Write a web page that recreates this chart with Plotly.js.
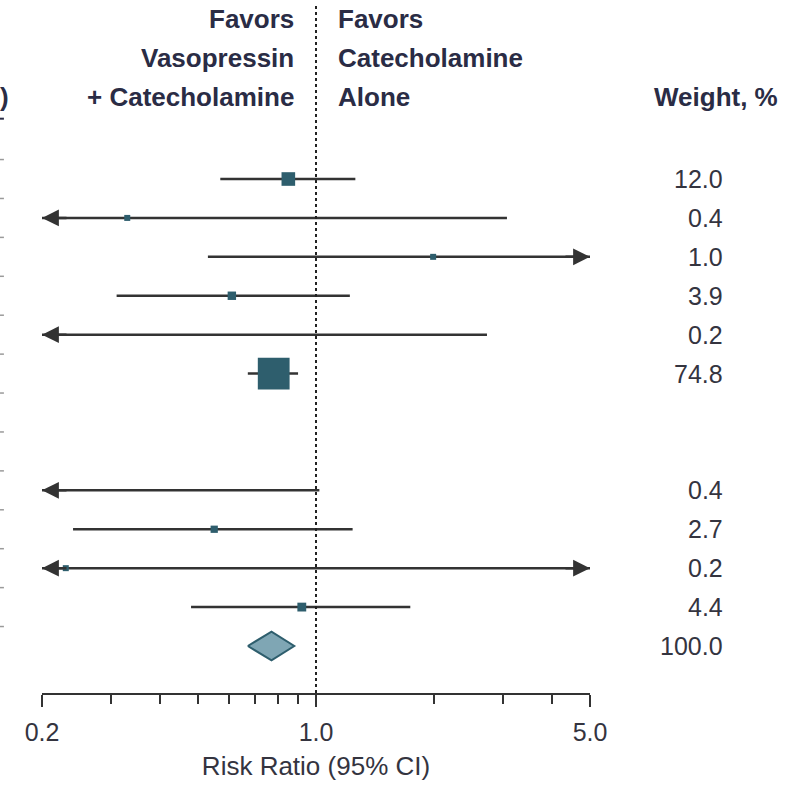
<!DOCTYPE html>
<html>
<head>
<meta charset="utf-8">
<script src="https://cdn.plot.ly/plotly-3.0.1.min.js"></script>
<style>
  html, body { margin: 0; padding: 0; background: #ffffff; }
  #chart { width: 792px; height: 786px; }
</style>
</head>
<body>
<div id="chart"></div>
<script>
// ---- data ----
const studyRows   = [0, 1, 2, 3, 4, 5, 8, 9, 10, 11];          // row order of studies
const weights     = [12.0, 0.4, 1.0, 3.9, 0.2, 74.8, 0.4, 2.7, 0.2, 4.4];
const riskRatio   = [0.85, 0.33, 1.99, 0.61, 0.15, 0.78, 0.17, 0.55, 0.23, 0.92];
const ciLower     = [0.57, 0.05, 0.53, 0.31, 0.02, 0.67, 0.01, 0.24, 0.03, 0.48];
const ciUpper     = [1.26, 3.07, 12.0, 1.22, 2.73, 0.90, 1.02, 1.24, 9.00, 1.74];
const pooledRow   = 12;
const pooled      = {rr: 0.77, lo: 0.67, hi: 0.88, weight: 100.0};
const xTickVals   = [0.2, 1, 5];
const xTickText   = ['0.2', '1.0', '5.0'];
const xMinorVals  = [0.3, 0.4, 0.5, 0.6, 0.7, 0.8, 0.9, 2, 3, 4];
const xMin = 0.2, xMax = 5;

// ---- styles ----
const lineColor = '#333333';
const boxColor  = '#2e5e6d';
const diamondFill = '#7fa6b4';
const textColor = '#34343f';
const headColor = '#2a2c45';
const regFont = 'Liberation Sans, Arial, sans-serif';

// CI lines (clamped to axis range)
const lx = [], ly = [];
studyRows.forEach((r, i) => {
  lx.push(Math.max(ciLower[i], xMin), Math.min(ciUpper[i], xMax), null);
  ly.push(r, r, null);
});

const traces = [
  {
    type: 'scatter', mode: 'lines', x: lx, y: ly,
    line: {color: lineColor, width: 2.5}, hoverinfo: 'skip', showlegend: false
  },
  {
    type: 'scatter', mode: 'markers', x: riskRatio, y: studyRows,
    marker: {
      symbol: 'square', color: boxColor, opacity: 1,
      size: weights.map(w => Math.max(6, 1.5 + 3.5 * Math.sqrt(w))),
      line: {width: 0}
    },
    cliponaxis: true, showlegend: false
  },
  {
    type: 'scatter', mode: 'lines',
    x: [pooled.lo, pooled.rr, pooled.hi, pooled.rr, pooled.lo],
    y: [pooledRow, pooledRow - 0.37, pooledRow, pooledRow + 0.37, pooledRow],
    fill: 'toself', fillcolor: diamondFill,
    line: {color: boxColor, width: 2}, showlegend: false
  }
];

const annotations = [];
// arrowheads for CIs extending beyond the axis
studyRows.forEach((r, i) => {
  if (ciLower[i] < xMin) {
    annotations.push({x: Math.log10(xMin), y: r, xref: 'x', yref: 'y', text: '',
      showarrow: true, ax: 26, ay: 0, arrowhead: 2, arrowsize: 1.35,
      arrowwidth: 2.5, arrowcolor: lineColor, standoff: 0});
  }
  if (ciUpper[i] > xMax) {
    annotations.push({x: Math.log10(xMax), y: r, xref: 'x', yref: 'y', text: '',
      showarrow: true, ax: -26, ay: 0, arrowhead: 2, arrowsize: 1.35,
      arrowwidth: 2.5, arrowcolor: lineColor, standoff: 0});
  }
});

// weights column
const wRows = studyRows.concat([pooledRow]);
const wVals = weights.concat([pooled.weight]);
wRows.forEach((r, i) => {
  annotations.push({x: 1.246, y: r, xref: 'paper', yref: 'y', text: wVals[i].toFixed(1),
    showarrow: false, xanchor: 'right', yanchor: 'middle',
    font: {family: regFont, size: 25, color: textColor}});
});

// headers
const leftHead = ['Favors', 'Vasopressin', '+ Catecholamine'];
const rightHead = ['Favors', 'Catecholamine', 'Alone'];
const headFont = {family: regFont, size: 26, color: headColor};
leftHead.forEach((t, k) => annotations.push({x: 0.4635, y: -4.1 + k, xref: 'paper', yref: 'y',
  text: '<b>' + t + '</b>', showarrow: false, xanchor: 'right', yanchor: 'middle', font: headFont}));
rightHead.forEach((t, k) => annotations.push({x: 0.5365, y: -4.1 + k, xref: 'paper', yref: 'y',
  text: '<b>' + t + '</b>', showarrow: false, xanchor: 'left', yanchor: 'middle', font: headFont}));
annotations.push({x: 1.113, y: -2.1, xref: 'paper', yref: 'y', text: '<b>Weight, %</b>',
  showarrow: false, xanchor: 'left', yanchor: 'middle', font: headFont});
// fragment of the (cropped) left column header
annotations.push({x: -0.0766, y: -2.1, xref: 'paper', yref: 'y', text: '<b>)</b>',
  showarrow: false, xanchor: 'left', yanchor: 'middle', xshift: -2, font: headFont});

const shapes = [
  {type: 'line', xref: 'x', yref: 'paper', x0: 1, x1: 1, y0: 0, y1: 0.993,
   line: {color: '#222222', width: 2, dash: 'dot'}}
];
// fragments of the (cropped) left column
for (let r = -0.5; r < 12; r += 1) {
  shapes.push({type: 'line', xref: 'paper', yref: 'y', x0: -0.0766, x1: -0.0695, y0: r, y1: r,
    line: {color: '#9a9a9a', width: 1.5}});
}
shapes.push({type: 'line', xref: 'paper', yref: 'y', x0: -0.0766, x1: -0.0695, y0: -1.55, y1: -1.55,
  line: {color: headColor, width: 2}});

const layout = {
  width: 792, height: 786,
  margin: {l: 42, r: 202, t: 0, b: 93},
  paper_bgcolor: '#ffffff', plot_bgcolor: '#ffffff',
  showlegend: false,
  xaxis: {
    type: 'log', range: [Math.log10(xMin), Math.log10(xMax)],
    showgrid: false, zeroline: false,
    showline: true, linecolor: lineColor, linewidth: 2,
    ticks: 'outside', tickvals: xTickVals, ticktext: xTickText,
    ticklen: 12, tickwidth: 2, tickcolor: lineColor,
    ticklabelstandoff: 4,
    minor: {tickmode: 'array', tickvals: xMinorVals, ticks: 'outside', ticklen: 9, tickwidth: 2, tickcolor: lineColor, showgrid: false},
    tickfont: {family: regFont, size: 25, color: textColor},
    title: {text: 'Risk Ratio (95% CI)', font: {family: regFont, size: 26, color: textColor}, standoff: 12},
    fixedrange: true
  },
  yaxis: {
    range: [13.208, -4.6], visible: false, showgrid: false, zeroline: false, fixedrange: true
  },
  annotations: annotations,
  shapes: shapes
};

Plotly.newPlot('chart', traces, layout, {displayModeBar: false, staticPlot: true});
</script>
</body>
</html>
